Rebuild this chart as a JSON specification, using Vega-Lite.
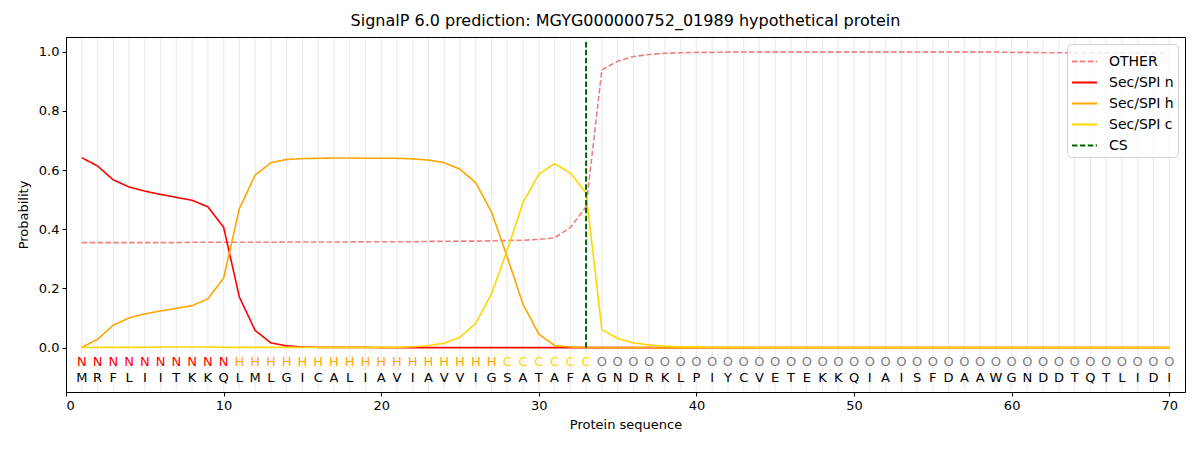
{
  "$schema": "https://vega.github.io/schema/vega-lite/v6.json",
  "width": 1119,
  "height": 355,
  "autosize": {"type": "none"},
  "padding": {"left": 66, "top": 37, "right": 15, "bottom": 58},
  "background": "white",
  "title": {
    "text": "SignalP 6.0 prediction: MGYG000000752_01989 hypothetical protein",
    "font": "DejaVu Sans",
    "fontSize": 16,
    "fontWeight": "normal",
    "color": "black",
    "offset": 7
  },
  "config": {
    "font": "DejaVu Sans",
    "view": {"stroke": "black", "strokeWidth": 1},
    "axis": {
      "labelFont": "DejaVu Sans",
      "labelFontSize": 13,
      "labelColor": "black",
      "titleFont": "DejaVu Sans",
      "titleFontSize": 13,
      "titleFontWeight": "normal",
      "titleColor": "black",
      "domainColor": "black",
      "tickColor": "black",
      "tickSize": 4,
      "grid": false
    },
    "legend": {
      "labelFont": "DejaVu Sans",
      "labelFontSize": 14,
      "labelColor": "black"
    }
  },
  "datasets": {
    "seq": [
      {"i": 1, "aa": "M", "lab": "N", "OTHER": 0.355, "Sec/SPI n": 0.642, "Sec/SPI h": 0.001, "Sec/SPI c": 0.0},
      {"i": 2, "aa": "R", "lab": "N", "OTHER": 0.355, "Sec/SPI n": 0.614, "Sec/SPI h": 0.028, "Sec/SPI c": 0.001},
      {"i": 3, "aa": "F", "lab": "N", "OTHER": 0.355, "Sec/SPI n": 0.567, "Sec/SPI h": 0.076, "Sec/SPI c": 0.001},
      {"i": 4, "aa": "L", "lab": "N", "OTHER": 0.355, "Sec/SPI n": 0.543, "Sec/SPI h": 0.1, "Sec/SPI c": 0.001},
      {"i": 5, "aa": "I", "lab": "N", "OTHER": 0.355, "Sec/SPI n": 0.529, "Sec/SPI h": 0.114, "Sec/SPI c": 0.001},
      {"i": 6, "aa": "I", "lab": "N", "OTHER": 0.355, "Sec/SPI n": 0.518, "Sec/SPI h": 0.124, "Sec/SPI c": 0.002},
      {"i": 7, "aa": "T", "lab": "N", "OTHER": 0.355, "Sec/SPI n": 0.508, "Sec/SPI h": 0.133, "Sec/SPI c": 0.002},
      {"i": 8, "aa": "K", "lab": "N", "OTHER": 0.356, "Sec/SPI n": 0.498, "Sec/SPI h": 0.142, "Sec/SPI c": 0.002},
      {"i": 9, "aa": "K", "lab": "N", "OTHER": 0.356, "Sec/SPI n": 0.476, "Sec/SPI h": 0.165, "Sec/SPI c": 0.002},
      {"i": 10, "aa": "Q", "lab": "N", "OTHER": 0.356, "Sec/SPI n": 0.407, "Sec/SPI h": 0.235, "Sec/SPI c": 0.001},
      {"i": 11, "aa": "L", "lab": "H", "OTHER": 0.356, "Sec/SPI n": 0.171, "Sec/SPI h": 0.47, "Sec/SPI c": 0.001},
      {"i": 12, "aa": "M", "lab": "H", "OTHER": 0.356, "Sec/SPI n": 0.058, "Sec/SPI h": 0.583, "Sec/SPI c": 0.001},
      {"i": 13, "aa": "L", "lab": "H", "OTHER": 0.356, "Sec/SPI n": 0.016, "Sec/SPI h": 0.625, "Sec/SPI c": 0.001},
      {"i": 14, "aa": "G", "lab": "H", "OTHER": 0.357, "Sec/SPI n": 0.006, "Sec/SPI h": 0.636, "Sec/SPI c": 0.001},
      {"i": 15, "aa": "I", "lab": "H", "OTHER": 0.357, "Sec/SPI n": 0.002, "Sec/SPI h": 0.639, "Sec/SPI c": 0.001},
      {"i": 16, "aa": "C", "lab": "H", "OTHER": 0.357, "Sec/SPI n": 0.001, "Sec/SPI h": 0.64, "Sec/SPI c": 0.001},
      {"i": 17, "aa": "A", "lab": "H", "OTHER": 0.357, "Sec/SPI n": 0.001, "Sec/SPI h": 0.641, "Sec/SPI c": 0.001},
      {"i": 18, "aa": "L", "lab": "H", "OTHER": 0.357, "Sec/SPI n": 0.001, "Sec/SPI h": 0.641, "Sec/SPI c": 0.001},
      {"i": 19, "aa": "I", "lab": "H", "OTHER": 0.358, "Sec/SPI n": 0.001, "Sec/SPI h": 0.64, "Sec/SPI c": 0.001},
      {"i": 20, "aa": "A", "lab": "H", "OTHER": 0.358, "Sec/SPI n": 0.0, "Sec/SPI h": 0.64, "Sec/SPI c": 0.001},
      {"i": 21, "aa": "V", "lab": "H", "OTHER": 0.358, "Sec/SPI n": 0.0, "Sec/SPI h": 0.64, "Sec/SPI c": 0.001},
      {"i": 22, "aa": "I", "lab": "H", "OTHER": 0.358, "Sec/SPI n": 0.0, "Sec/SPI h": 0.638, "Sec/SPI c": 0.003},
      {"i": 23, "aa": "A", "lab": "H", "OTHER": 0.359, "Sec/SPI n": 0.0, "Sec/SPI h": 0.634, "Sec/SPI c": 0.007},
      {"i": 24, "aa": "V", "lab": "H", "OTHER": 0.359, "Sec/SPI n": 0.0, "Sec/SPI h": 0.625, "Sec/SPI c": 0.015},
      {"i": 25, "aa": "V", "lab": "H", "OTHER": 0.36, "Sec/SPI n": 0.0, "Sec/SPI h": 0.603, "Sec/SPI c": 0.035},
      {"i": 26, "aa": "I", "lab": "H", "OTHER": 0.36, "Sec/SPI n": 0.0, "Sec/SPI h": 0.557, "Sec/SPI c": 0.082},
      {"i": 27, "aa": "G", "lab": "H", "OTHER": 0.361, "Sec/SPI n": 0.0, "Sec/SPI h": 0.458, "Sec/SPI c": 0.182},
      {"i": 28, "aa": "S", "lab": "C", "OTHER": 0.362, "Sec/SPI n": 0.0, "Sec/SPI h": 0.306, "Sec/SPI c": 0.33},
      {"i": 29, "aa": "A", "lab": "C", "OTHER": 0.363, "Sec/SPI n": 0.0, "Sec/SPI h": 0.146, "Sec/SPI c": 0.491},
      {"i": 30, "aa": "T", "lab": "C", "OTHER": 0.366, "Sec/SPI n": 0.0, "Sec/SPI h": 0.046, "Sec/SPI c": 0.586},
      {"i": 31, "aa": "A", "lab": "C", "OTHER": 0.371, "Sec/SPI n": 0.0, "Sec/SPI h": 0.007, "Sec/SPI c": 0.622},
      {"i": 32, "aa": "F", "lab": "C", "OTHER": 0.406, "Sec/SPI n": 0.0, "Sec/SPI h": 0.002, "Sec/SPI c": 0.59},
      {"i": 33, "aa": "A", "lab": "C", "OTHER": 0.476, "Sec/SPI n": 0.0, "Sec/SPI h": 0.001, "Sec/SPI c": 0.523},
      {"i": 34, "aa": "G", "lab": "O", "OTHER": 0.939, "Sec/SPI n": 0.0, "Sec/SPI h": 0.0, "Sec/SPI c": 0.061},
      {"i": 35, "aa": "N", "lab": "O", "OTHER": 0.968, "Sec/SPI n": 0.0, "Sec/SPI h": 0.0, "Sec/SPI c": 0.031},
      {"i": 36, "aa": "D", "lab": "O", "OTHER": 0.984, "Sec/SPI n": 0.0, "Sec/SPI h": 0.0, "Sec/SPI c": 0.016},
      {"i": 37, "aa": "R", "lab": "O", "OTHER": 0.991, "Sec/SPI n": 0.0, "Sec/SPI h": 0.0, "Sec/SPI c": 0.009},
      {"i": 38, "aa": "K", "lab": "O", "OTHER": 0.995, "Sec/SPI n": 0.0, "Sec/SPI h": 0.0, "Sec/SPI c": 0.005},
      {"i": 39, "aa": "L", "lab": "O", "OTHER": 0.997, "Sec/SPI n": 0.0, "Sec/SPI h": 0.0, "Sec/SPI c": 0.003},
      {"i": 40, "aa": "P", "lab": "O", "OTHER": 0.998, "Sec/SPI n": 0.0, "Sec/SPI h": 0.0, "Sec/SPI c": 0.002},
      {"i": 41, "aa": "I", "lab": "O", "OTHER": 0.998, "Sec/SPI n": 0.0, "Sec/SPI h": 0.0, "Sec/SPI c": 0.001},
      {"i": 42, "aa": "Y", "lab": "O", "OTHER": 0.999, "Sec/SPI n": 0.0, "Sec/SPI h": 0.0, "Sec/SPI c": 0.001},
      {"i": 43, "aa": "C", "lab": "O", "OTHER": 0.999, "Sec/SPI n": 0.0, "Sec/SPI h": 0.0, "Sec/SPI c": 0.001},
      {"i": 44, "aa": "V", "lab": "O", "OTHER": 0.999, "Sec/SPI n": 0.0, "Sec/SPI h": 0.0, "Sec/SPI c": 0.0},
      {"i": 45, "aa": "E", "lab": "O", "OTHER": 0.999, "Sec/SPI n": 0.0, "Sec/SPI h": 0.0, "Sec/SPI c": 0.0},
      {"i": 46, "aa": "T", "lab": "O", "OTHER": 0.999, "Sec/SPI n": 0.0, "Sec/SPI h": 0.0, "Sec/SPI c": 0.0},
      {"i": 47, "aa": "E", "lab": "O", "OTHER": 0.999, "Sec/SPI n": 0.0, "Sec/SPI h": 0.0, "Sec/SPI c": 0.0},
      {"i": 48, "aa": "K", "lab": "O", "OTHER": 0.999, "Sec/SPI n": 0.0, "Sec/SPI h": 0.0, "Sec/SPI c": 0.0},
      {"i": 49, "aa": "K", "lab": "O", "OTHER": 0.999, "Sec/SPI n": 0.0, "Sec/SPI h": 0.0, "Sec/SPI c": 0.0},
      {"i": 50, "aa": "Q", "lab": "O", "OTHER": 0.999, "Sec/SPI n": 0.0, "Sec/SPI h": 0.0, "Sec/SPI c": 0.0},
      {"i": 51, "aa": "I", "lab": "O", "OTHER": 0.999, "Sec/SPI n": 0.0, "Sec/SPI h": 0.0, "Sec/SPI c": 0.0},
      {"i": 52, "aa": "A", "lab": "O", "OTHER": 0.999, "Sec/SPI n": 0.0, "Sec/SPI h": 0.0, "Sec/SPI c": 0.0},
      {"i": 53, "aa": "I", "lab": "O", "OTHER": 0.999, "Sec/SPI n": 0.0, "Sec/SPI h": 0.0, "Sec/SPI c": 0.0},
      {"i": 54, "aa": "S", "lab": "O", "OTHER": 0.999, "Sec/SPI n": 0.0, "Sec/SPI h": 0.0, "Sec/SPI c": 0.0},
      {"i": 55, "aa": "F", "lab": "O", "OTHER": 0.999, "Sec/SPI n": 0.0, "Sec/SPI h": 0.0, "Sec/SPI c": 0.0},
      {"i": 56, "aa": "D", "lab": "O", "OTHER": 0.999, "Sec/SPI n": 0.0, "Sec/SPI h": 0.0, "Sec/SPI c": 0.0},
      {"i": 57, "aa": "A", "lab": "O", "OTHER": 0.999, "Sec/SPI n": 0.0, "Sec/SPI h": 0.0, "Sec/SPI c": 0.0},
      {"i": 58, "aa": "A", "lab": "O", "OTHER": 0.999, "Sec/SPI n": 0.0, "Sec/SPI h": 0.0, "Sec/SPI c": 0.0},
      {"i": 59, "aa": "W", "lab": "O", "OTHER": 0.999, "Sec/SPI n": 0.0, "Sec/SPI h": 0.0, "Sec/SPI c": 0.0},
      {"i": 60, "aa": "G", "lab": "O", "OTHER": 0.998, "Sec/SPI n": 0.0, "Sec/SPI h": 0.0, "Sec/SPI c": 0.0},
      {"i": 61, "aa": "N", "lab": "O", "OTHER": 0.998, "Sec/SPI n": 0.0, "Sec/SPI h": 0.0, "Sec/SPI c": 0.0},
      {"i": 62, "aa": "D", "lab": "O", "OTHER": 0.997, "Sec/SPI n": 0.0, "Sec/SPI h": 0.0, "Sec/SPI c": 0.0},
      {"i": 63, "aa": "D", "lab": "O", "OTHER": 0.997, "Sec/SPI n": 0.0, "Sec/SPI h": 0.0, "Sec/SPI c": 0.0},
      {"i": 64, "aa": "T", "lab": "O", "OTHER": 0.996, "Sec/SPI n": 0.0, "Sec/SPI h": 0.0, "Sec/SPI c": 0.0},
      {"i": 65, "aa": "Q", "lab": "O", "OTHER": 0.996, "Sec/SPI n": 0.0, "Sec/SPI h": 0.0, "Sec/SPI c": 0.0},
      {"i": 66, "aa": "T", "lab": "O", "OTHER": 0.996, "Sec/SPI n": 0.0, "Sec/SPI h": 0.0, "Sec/SPI c": 0.0},
      {"i": 67, "aa": "L", "lab": "O", "OTHER": 0.996, "Sec/SPI n": 0.0, "Sec/SPI h": 0.0, "Sec/SPI c": 0.0},
      {"i": 68, "aa": "I", "lab": "O", "OTHER": 0.996, "Sec/SPI n": 0.0, "Sec/SPI h": 0.0, "Sec/SPI c": 0.0},
      {"i": 69, "aa": "D", "lab": "O", "OTHER": 0.996, "Sec/SPI n": 0.0, "Sec/SPI h": 0.0, "Sec/SPI c": 0.0},
      {"i": 70, "aa": "I", "lab": "O", "OTHER": 0.997, "Sec/SPI n": 0.0, "Sec/SPI h": 0.0, "Sec/SPI c": 0.0}
    ],
    "cs": [
      {"i": 33, "p": 0.0, "series": "CS"},
      {"i": 33, "p": 1.04, "series": "CS"}
    ]
  },
  "encoding": {
    "x": {
      "field": "i",
      "type": "quantitative",
      "title": "Protein sequence",
      "scale": {"domain": [0, 71], "nice": false, "zero": false},
      "axis": {"values": [0, 10, 20, 30, 40, 50, 60, 70], "titlePadding": 6, "labelPadding": 3}
    }
  },
  "layer": [
    {
      "data": {"name": "seq"},
      "mark": {"type": "rule", "color": "#ececec", "strokeWidth": 1.2},
      "encoding": {
        "y": {"datum": -0.147},
        "y2": {"datum": 1.047}
      }
    },
    {
      "data": {"name": "seq"},
      "transform": [
        {"fold": ["OTHER", "Sec/SPI n", "Sec/SPI h", "Sec/SPI c"], "as": ["series", "p"]}
      ],
      "mark": {"type": "line", "strokeWidth": 1.6},
      "encoding": {
        "y": {
          "field": "p",
          "type": "quantitative",
          "title": "Probability",
          "scale": {"domain": [-0.15, 1.05], "nice": false, "zero": false},
          "axis": {"values": [0, 0.2, 0.4, 0.6, 0.8, 1.0], "format": ".1f", "titlePadding": 8, "labelPadding": 3}
        },
        "color": {
          "field": "series",
          "type": "nominal",
          "title": null,
          "scale": {
            "domain": ["OTHER", "Sec/SPI n", "Sec/SPI h", "Sec/SPI c", "CS"],
            "range": ["#f08080", "#ff0000", "#ffa500", "#ffd700", "#006400"]
          },
          "legend": {
            "orient": "top-right",
            "offset": 7,
            "fillColor": "rgba(255,255,255,0.8)",
            "strokeColor": "#d0d0d0",
            "cornerRadius": 4,
            "padding": 4,
            "symbolType": "stroke",
            "symbolSize": 625,
            "symbolStrokeWidth": 2,
            "rowPadding": -4,
            "labelOffset": 11
          }
        },
        "strokeDash": {
          "field": "series",
          "type": "nominal",
          "title": null,
          "scale": {
            "domain": ["OTHER", "Sec/SPI n", "Sec/SPI h", "Sec/SPI c", "CS"],
            "range": [[5.5, 2.4], [1, 0], [1, 0], [1, 0], [5.5, 2.4]]
          }
        }
      }
    },
    {
      "data": {"name": "cs"},
      "mark": {"type": "line", "strokeWidth": 2},
      "encoding": {
        "y": {"field": "p", "type": "quantitative"},
        "color": {"field": "series", "type": "nominal", "title": null},
        "strokeDash": {"field": "series", "type": "nominal", "title": null}
      }
    },
    {
      "data": {"name": "seq"},
      "mark": {"type": "text", "fontSize": 13, "baseline": "middle", "align": "center"},
      "encoding": {
        "y": {"datum": -0.047},
        "text": {"field": "lab"},
        "color": {
          "condition": [
            {"test": "datum.lab === 'N'", "value": "#ff0000"},
            {"test": "datum.lab === 'H'", "value": "#ffa500"},
            {"test": "datum.lab === 'C'", "value": "#ffd700"}
          ],
          "value": "#808080"
        }
      }
    },
    {
      "data": {"name": "seq"},
      "mark": {"type": "text", "fontSize": 13, "baseline": "middle", "align": "center", "color": "black"},
      "encoding": {
        "y": {"datum": -0.102},
        "text": {"field": "aa"}
      }
    }
  ]
}
